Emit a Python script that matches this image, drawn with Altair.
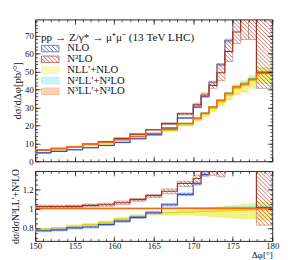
import math
import altair as alt
import pandas as pd

# ---------------- data ----------------
edges = [150, 152, 154, 156, 158, 160, 162, 164, 166, 168, 170,
         171, 172, 173, 174, 175, 176, 177, 178, 180]

n3ll    = [6.1, 7.0, 8.0, 9.3, 10.5, 12.0, 13.8, 15.5, 17.8, 21.0, 24.0, 26.7, 30.2, 33.8, 37.7, 41.3, 43.0, 45.5, 49.0]
n3ll_lo = [6.08, 6.97, 7.97, 9.26, 10.46, 11.95, 13.75, 15.44, 17.73, 20.92, 23.90, 26.59, 30.08, 33.66, 37.55, 41.13, 42.82, 45.31, 48.80]
n3ll_hi = [6.12, 7.03, 8.03, 9.34, 10.54, 12.05, 13.85, 15.56, 17.87, 21.08, 24.10, 26.81, 30.32, 33.94, 37.85, 41.47, 43.18, 45.69, 49.20]

n2ll    = [6.12, 7.02, 8.02, 9.33, 10.53, 12.04, 13.84, 15.55, 17.86, 21.08, 24.10, 26.84, 30.39, 34.04, 38.0, 41.67, 43.43, 46.0, 49.6]
n2ll_lo = [6.08, 6.98, 7.98, 9.27, 10.47, 11.96, 13.76, 15.45, 17.75, 20.94, 23.93, 26.62, 30.11, 33.70, 37.59, 41.18, 42.87, 45.36, 48.85]
n2ll_hi = [6.14, 7.04, 8.05, 9.36, 10.56, 12.07, 13.88, 15.59, 17.94, 21.21, 24.29, 27.07, 30.68, 34.41, 38.45, 42.21, 44.03, 46.68, 50.47]

nll     = [4.82, 5.60, 6.56, 7.77, 9.03, 10.72, 12.70, 14.69, 17.03, 20.24, 23.21, 25.90, 29.35, 32.96, 36.83, 40.47, 42.27, 44.91, 48.76]
nll_lo  = [4.76, 5.53, 6.44, 7.63, 8.87, 10.50, 12.42, 14.38, 16.59, 19.53, 22.20, 24.56, 27.57, 30.66, 33.93, 36.96, 38.27, 40.31, 42.97]
nll_hi  = [4.88, 5.67, 6.68, 7.91, 9.19, 10.92, 12.97, 15.00, 17.41, 20.69, 23.76, 26.70, 30.50, 34.48, 38.83, 42.95, 45.15, 48.00, 52.43]

nlo     = [4.70, 5.46, 6.40, 7.53, 8.77, 10.44, 12.54, 14.83, 18.49, 24.07, 30.19, 36.05, 44.0, 53.8, 67.2, 96.0, 106.0, 113.0, 120.0]
nlo_lo  = [4.64, 5.39, 6.32, 7.44, 8.66, 10.31, 12.39, 14.65, 18.27, 23.78, 29.83, 35.62, 43.47, 53.15, 66.4, 94.0, 104.0, 110.0, 116.0]
nlo_hi  = [4.76, 5.53, 6.48, 7.62, 8.88, 10.57, 12.69, 15.01, 18.71, 24.36, 30.55, 36.48, 44.53, 54.45, 68.0, 98.0, 108.0, 116.0, 124.0]

n2lo    = [6.23, 7.15, 8.18, 9.60, 10.91, 12.72, 15.08, 17.56, 20.97, 26.46, 31.44, 36.9, 42.3, 49.3, 61.2, 72.0, 84.0, 92.0, 49.5]
n2lo_lo = [6.15, 7.06, 8.08, 9.48, 10.76, 12.52, 14.85, 17.25, 20.5, 25.8, 30.4, 35.8, 40.6, 44.9, 55.6, 65.5, 67.8, 67.8, 40.6]
n2lo_hi = [6.31, 7.24, 8.28, 9.72, 11.06, 12.92, 15.25, 17.75, 21.4, 26.9, 32.3, 38.0, 44.0, 53.8, 67.2, 80.0, 100.0, 104.0, 110.0]

names = ["NLO", "N²LO", "NLL′+NLO", "N²LL′+N²LO", "N³LL′+N²LO"]
legend_title = "pp → Z/γ* → μ⁺μ⁻ (13 TeV LHC)"

x_major = [150, 155, 160, 165, 170, 175, 180]
x_minor = list(range(150, 181))
top_major = [0, 10, 20, 30, 40, 50, 60, 70]
top_minor = list(range(0, 80, 2))
rat_major = [0.8, 1.0, 1.2]
rat_minor = [0.7, 0.75, 0.8, 0.85, 0.9, 0.95, 1.0, 1.05, 1.1, 1.15, 1.2, 1.25, 1.3, 1.35]

# ---------------- style ----------------
FONT = "Liberation Serif"
W, H1, H2 = 244, 146, 72
XDOM = [150, 180]
TOP_DOM = [0, 79]
RAT_DOM = [0.666, 1.388]

C_NLO, C_NLO_H, C_NLO_O = "#3050c8", "#4a64d8", "#95a5ee"
C_N2LO, C_N2LO_H, C_N2LO_O = "#a03222", "#a8402e", "#cf9585"
C_Y_B, C_Y_L = "#f4f084", "#ddd400"
C_C_B, C_C_L = "#86f2f0", "#3cd6d6"
C_O_B, C_O_L = "#ffa468", "#ff6410"


def swatch_paths(x0=-1.0, x1=2.6, hh=0.66, step=0.85):
    rect = f"M{x0},{-hh}H{x1}V{hh}H{x0}Z"
    segs = []
    k = math.floor((-hh - x1) / step)
    while k * step <= hh - x0:
        c = k * step
        us, ue = max(x0, -hh - c), min(x1, hh - c)
        if ue - us > 0.05:
            segs.append(f"M{us:.3f},{us + c:.3f}L{ue:.3f},{ue + c:.3f}")
        k += 1
    return rect, rect + " " + " ".join(segs)


RECT, HATCH = swatch_paths()


def ratio(vals):
    return [v / r for v, r in zip(vals, n3ll)]


def bins_df(lo, hi):
    return pd.DataFrame({"x": edges[:-1], "x2": edges[1:], "lo": lo, "hi": hi})


def step_df(vals):
    return pd.DataFrame({"x": edges, "v": list(vals) + [vals[-1]]})


def hatch_df(lo, hi, ydom, h, step=4.2):
    sx = W / (XDOM[1] - XDOM[0])
    sy = h / (ydom[1] - ydom[0])
    rows = []
    for x0, x1, a, b in zip(edges[:-1], edges[1:], lo, hi):
        a = max(a, ydom[0]); b = min(b, ydom[1])
        if b <= a:
            continue
        u0, u1 = (x0 - XDOM[0]) * sx, (x1 - XDOM[0]) * sx
        v0, v1 = (ydom[1] - b) * sy, (ydom[1] - a) * sy
        for k in range(math.floor((v0 - u1) / step), math.ceil((v1 - u0) / step) + 1):
            c = k * step
            us, ue = max(u0, v0 - c), min(u1, v1 - c)
            if ue - us > 0.4:
                rows.append({"x": XDOM[0] + us / sx, "x2": XDOM[0] + ue / sx,
                             "y": ydom[1] - (us + c) / sy, "y2": ydom[1] - (ue + c) / sy})
    if not rows:
        rows = [{"x": 150.0, "x2": 150.0, "y": ydom[0], "y2": ydom[0]}]
    return pd.DataFrame(rows)


def tick_axis(orient, values, size, labels=False, title=None, fmt=None, tpad=3,
              tsize=10, anchor=None, lpad=2):
    kw = dict(orient=orient, values=values, tickSize=size, offset=-size, labels=labels,
              domain=False, grid=False, ticks=True, tickColor="#222", tickWidth=0.8,
              zindex=1, title=title)
    if labels:
        kw.update(labelFont=FONT, labelFontSize=9, labelPadding=lpad, labelColor="#111",
                  labelFlush=False, labelOverlap=False)
    if title:
        kw.update(titleFont=FONT, titleFontSize=tsize, titleFontWeight="normal",
                  titleColor="#111", titlePadding=tpad)
        if anchor:
            kw["titleAnchor"] = anchor
    if fmt:
        kw["format"] = fmt
    return alt.Axis(**kw)


def panel(ydom, h, is_top, series):
    xs = alt.Scale(domain=XDOM, nice=False, zero=False)
    ys = alt.Scale(domain=ydom, nice=False, zero=False)
    if is_top:
        ymaj, ymin_, yfmt, ytitle, ytsize = top_major, top_minor, "d", "dσ/dΔφ[pb/°]", 11
    else:
        ymaj, ymin_, yfmt, ytitle, ytsize = rat_major, rat_minor, "~g", "dσ/dσN³LL′+N²LO", 10
    xt = None if is_top else "Δφ[°]"

    axes = [
        (tick_axis("bottom", x_major, 5, labels=not is_top, title=xt, tpad=-1,
                   tsize=9.5, anchor="end", lpad=1),
         tick_axis("left", ymaj, 5, labels=True, title=ytitle, fmt=yfmt, tpad=2, tsize=ytsize)),
        (tick_axis("bottom", x_minor, 2.5), tick_axis("left", ymin_, 2.5)),
        (tick_axis("top", x_major, 5), tick_axis("right", ymaj, 5)),
        (tick_axis("top", x_minor, 2.5), tick_axis("right", ymin_, 2.5)),
    ]

    def band(lo, hi, fill, stroke=None, ax=None, sw=0.8):
        xa, ya = ax if ax else (None, None)
        props = dict(clip=True)
        if fill:
            props["fill"] = fill
        else:
            props["fillOpacity"] = 0
        if stroke:
            props.update(stroke=stroke, strokeWidth=sw)
        return alt.Chart(bins_df(lo, hi)).mark_rect(**props).encode(
            x=alt.X("x:Q", scale=xs, axis=xa), x2="x2:Q",
            y=alt.Y("lo:Q", scale=ys, axis=ya), y2="hi:Q")

    def line(vals, color, sw=1.2, ax=None):
        xa, ya = ax if ax else (None, None)
        return alt.Chart(step_df(vals)).mark_line(
            interpolate="step-after", color=color, strokeWidth=sw, clip=True).encode(
            x=alt.X("x:Q", scale=xs, axis=xa), y=alt.Y("v:Q", scale=ys, axis=ya))

    def hatch(lo, hi, color):
        return alt.Chart(hatch_df(lo, hi, ydom, h)).mark_rule(
            color=color, strokeWidth=0.7, clip=True).encode(
            x=alt.X("x:Q", scale=xs, axis=None), x2="x2:Q",
            y=alt.Y("y:Q", scale=ys, axis=None), y2="y2:Q")

    s = series
    layers = [
        band(s["nll_lo"], s["nll_hi"], C_Y_B, ax=axes[0]),
        band(s["n2ll_lo"], s["n2ll_hi"], C_C_B, ax=axes[1]),
        band(s["n3ll_lo"], s["n3ll_hi"], C_O_B, ax=axes[2]),
        line(s["nll"], C_Y_L, ax=axes[3]),
        line(s["n2ll"], C_C_L),
        band(s["nlo_lo"], s["nlo_hi"], None, stroke=C_NLO_O),
        hatch(s["nlo_lo"], s["nlo_hi"], C_NLO_H),
        line(s["nlo"], C_NLO),
        band(s["n2lo_lo"], s["n2lo_hi"], None, stroke=C_N2LO_O),
        hatch(s["n2lo_lo"], s["n2lo_hi"], C_N2LO_H),
        line(s["n2lo"], C_N2LO),
        line(s["n3ll"], C_O_L, sw=1.6),
    ]
    if is_top:
        leg = alt.Legend(title=["", legend_title], orient="top-left", offset=6,
                         titleFont=FONT, titleFontSize=11.5, titleFontWeight="normal",
                         titleColor="#111", titleLimit=400, titlePadding=0,
                         titleLineHeight=7,
                         labelFont=FONT, labelFontSize=11, labelColor="#111",
                         symbolSize=100, symbolStrokeWidth=1, rowPadding=-1,
                         labelOffset=16, padding=0)
        ldf = pd.DataFrame({"series": names, "x": [150.0] * 5, "y": [0.0] * 5})
        layers.append(
            alt.Chart(ldf).transform_filter("false").mark_point(filled=True).encode(
                x=alt.X("x:Q", scale=xs, axis=None),
                y=alt.Y("y:Q", scale=ys, axis=None),
                fill=alt.Fill("series:N", legend=leg, scale=alt.Scale(
                    domain=names, range=["#ffffff", "#ffffff", C_Y_B, C_C_B, C_O_B])),
                stroke=alt.Stroke("series:N", legend=leg, scale=alt.Scale(
                    domain=names, range=[C_NLO, C_N2LO, C_Y_B, C_C_B, C_O_B])),
                shape=alt.Shape("series:N", legend=leg, scale=alt.Scale(
                    domain=names, range=[HATCH, HATCH, RECT, RECT, RECT])),
            ))
    return alt.layer(*layers).resolve_axis(x="independent", y="independent").properties(
        width=W, height=h)


top_series = dict(nll=nll, nll_lo=nll_lo, nll_hi=nll_hi, n2ll=n2ll, n2ll_lo=n2ll_lo,
                  n2ll_hi=n2ll_hi, n3ll=n3ll, n3ll_lo=n3ll_lo, n3ll_hi=n3ll_hi,
                  nlo=nlo, nlo_lo=nlo_lo, nlo_hi=nlo_hi, n2lo=n2lo, n2lo_lo=n2lo_lo,
                  n2lo_hi=n2lo_hi)
rat_series = {k: ratio(v) for k, v in top_series.items()}

top = panel(TOP_DOM, H1, True, top_series)
bottom = panel(RAT_DOM, H2, False, rat_series)

chart = alt.vconcat(top, bottom, spacing=0).properties(
    padding={"left": 2, "top": 7, "right": 0, "bottom": 0}
).configure_view(stroke="#222", strokeWidth=1).configure_concat(spacing=0)

chart.save("out.html", embed_options={"renderer": "svg", "actions": False})
